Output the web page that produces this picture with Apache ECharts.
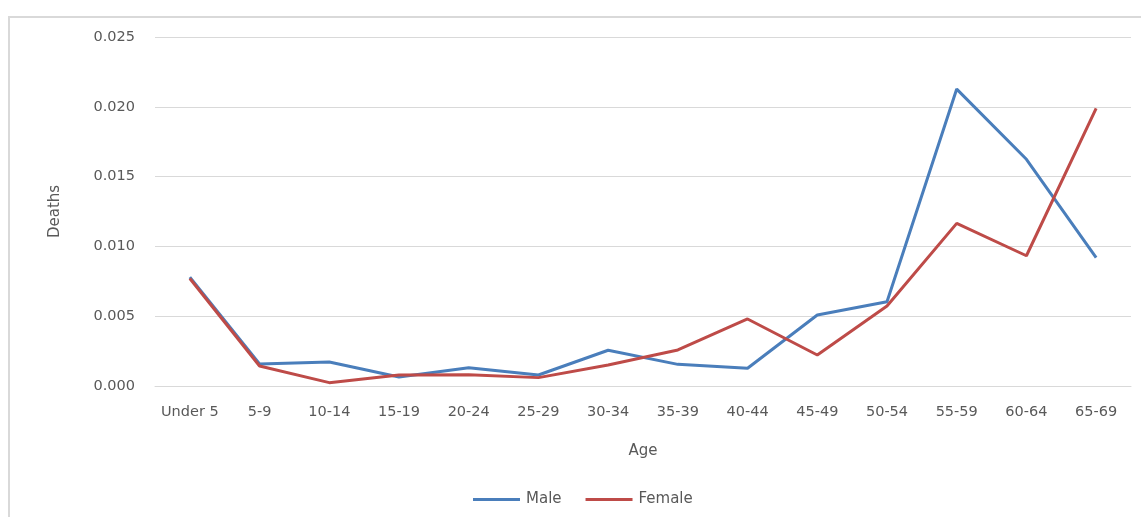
<!DOCTYPE html>
<html>
<head>
<meta charset="utf-8">
<script src="https://cdn.jsdelivr.net/npm/echarts@6/dist/echarts.min.js"></script>
<style>
  html, body { margin: 0; padding: 0; background: #ffffff; }
  #chart { width: 1141px; height: 517px; }
</style>
</head>
<body>
<div id="chart"></div>
<script>
// Age groups on the category axis
const ageGroups = ['Under 5', '5-9', '10-14', '15-19', '20-24', '25-29', '30-34',
                   '35-39', '40-44', '45-49', '50-54', '55-59', '60-64', '65-69'];

// Death rate by age group
const maleDeaths = [0.0078, 0.00158, 0.00172, 0.00064, 0.00131, 0.00079, 0.00256,
                    0.00155, 0.00127, 0.00509, 0.00604, 0.02127, 0.01624, 0.00919];
const femaleDeaths = [0.0077, 0.00143, 0.00024, 0.00079, 0.00081, 0.00060, 0.00150,
                      0.00258, 0.00480, 0.00222, 0.00573, 0.01165, 0.00933, 0.01989];

const FONT = '"DejaVu Sans", "Open Sans", sans-serif';
const TEXT_COLOR = '#595959';

const chart = echarts.init(document.getElementById('chart'), null, { renderer: 'canvas' });

chart.setOption({
  animation: false,
  backgroundColor: '#ffffff',
  textStyle: { fontFamily: FONT },
  graphic: [{
    // chart-area frame
    type: 'rect',
    shape: { x: 9, y: 17, width: 1300, height: 700 },
    style: { fill: 'none', stroke: '#d9d9d9', lineWidth: 2 },
    silent: true,
    z: -1
  }],
  grid: { left: 155, right: 10, top: 37, bottom: 131 },
  legend: {
    bottom: 5,
    left: 468,
    itemWidth: 47,
    itemHeight: 3,
    itemGap: 24,
    icon: 'rect',
    textStyle: { color: TEXT_COLOR, fontSize: 15, fontFamily: FONT, padding: [0, 0, 0, 1] },
    data: ['Male', 'Female']
  },
  xAxis: {
    type: 'category',
    data: ageGroups,
    boundaryGap: true,
    name: 'Age',
    nameLocation: 'middle',
    nameGap: 58,
    nameTextStyle: { color: TEXT_COLOR, fontSize: 15, fontFamily: FONT },
    axisLine: { show: true, lineStyle: { color: '#d9d9d9', width: 1 } },
    axisTick: { show: false },
    axisLabel: { color: TEXT_COLOR, fontSize: 14.5, fontFamily: FONT, margin: 19, interval: 0 }
  },
  yAxis: {
    type: 'value',
    min: 0,
    max: 0.025,
    interval: 0.005,
    name: 'Deaths',
    nameLocation: 'middle',
    nameGap: 92,
    nameRotate: 90,
    nameTextStyle: { color: TEXT_COLOR, fontSize: 15, fontFamily: FONT },
    axisLine: { show: false },
    axisTick: { show: false },
    splitLine: { lineStyle: { color: '#d9d9d9', width: 1 } },
    axisLabel: {
      color: TEXT_COLOR, fontSize: 14.5, fontFamily: FONT, margin: 20,
      formatter: v => v.toFixed(3)
    }
  },
  series: [
    {
      name: 'Male',
      type: 'line',
      data: maleDeaths,
      symbol: 'none',
      color: '#4a7ebb',
      lineStyle: { color: '#4a7ebb', width: 3 },
      z: 2
    },
    {
      name: 'Female',
      type: 'line',
      data: femaleDeaths,
      symbol: 'none',
      color: '#be4b48',
      lineStyle: { color: '#be4b48', width: 3 },
      z: 3
    }
  ]
});
</script>
</body>
</html>
